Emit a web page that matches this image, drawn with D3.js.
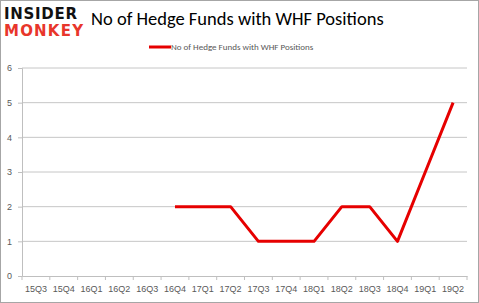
<!DOCTYPE html>
<html>
<head>
<meta charset="utf-8">
<script src="https://cdn.jsdelivr.net/npm/d3@7"></script>
<style>
  body { margin: 0; background: #fff; }
  svg { display: block; font-family: Calibri, Carlito, "Open Sans", Arial, sans-serif; }
</style>
</head>
<body>
<div id="chart"></div>
<script>
// quarters shown on the x axis
var quarters = ["15Q3","15Q4","16Q1","16Q2","16Q3","16Q4","17Q1","17Q2","17Q3","17Q4","18Q1","18Q2","18Q3","18Q4","19Q1","19Q2"];
// hedge fund counts, null where there is no point
var funds = [null,null,null,null,null,2,2,2,1,1,1,2,2,1,3,5];
var yTicks = [0,1,2,3,4,5,6];

var W = 479, H = 303;
// plot box ("top" is taken by window.top, so use other names)
var plotL = 22, plotR = 467, plotT = 68, plotB = 276;

var svg = d3.select("#chart").append("svg")
  .attr("width", W)
  .attr("height", H);

svg.append("rect")
  .attr("x", 0.5).attr("y", 0.5)
  .attr("width", W - 1).attr("height", H - 1)
  .attr("fill", "#fff")
  .attr("stroke", "#a6a6a6");

var x = d3.scaleBand().domain(quarters).range([plotL, plotR]);
var y = d3.scaleLinear().domain([0, 6]).range([plotB, plotT]);

// gridlines
svg.append("g").selectAll("line")
  .data(yTicks.slice(1))
  .enter().append("line")
  .attr("x1", plotL).attr("x2", plotR)
  .attr("y1", function(d){ return y(d); })
  .attr("y2", function(d){ return y(d); })
  .attr("stroke", "#c6c6c6")
  .attr("stroke-width", 1);

// y axis
var yAxis = svg.append("g")
  .attr("transform", "translate(" + plotL + ",0)")
  .call(d3.axisLeft(y).tickValues(yTicks).tickFormat(d3.format("d")).tickSize(4).tickPadding(6));
yAxis.select(".domain").attr("stroke", "#bfbfbf");
yAxis.selectAll(".tick line").attr("stroke", "#bfbfbf");
yAxis.selectAll("text").attr("fill", "#595959").style("font-size", "9px");

// x axis with ticks at band boundaries
var xAxis = svg.append("g")
  .attr("transform", "translate(0," + plotB + ")")
  .call(d3.axisBottom(x).tickSize(0).tickPadding(10));
xAxis.select(".domain").attr("stroke", "#bfbfbf");
xAxis.selectAll("text").attr("fill", "#595959").style("font-size", "9px");
svg.append("g").selectAll("line")
  .data(quarters.concat(["end"]))
  .enter().append("line")
  .attr("x1", function(d, i){ return plotL + i * x.step(); })
  .attr("x2", function(d, i){ return plotL + i * x.step(); })
  .attr("y1", plotB).attr("y2", plotB + 4)
  .attr("stroke", "#bfbfbf");

// the line
var line = d3.line()
  .defined(function(d){ return d != null; })
  .x(function(d, i){ return x(quarters[i]) + x.bandwidth() / 2; })
  .y(function(d){ return y(d); });

svg.append("path")
  .datum(funds)
  .attr("d", line)
  .attr("fill", "none")
  .attr("stroke", "#e60000")
  .attr("stroke-width", 3)
  .attr("stroke-linejoin", "round");

// title
svg.append("text")
  .attr("x", 91).attr("y", 25)
  .attr("fill", "#000")
  .style("font-size", "18.5px")
  .text("No of Hedge Funds with WHF Positions");

// legend
svg.append("line")
  .attr("x1", 149).attr("x2", 171)
  .attr("y1", 47).attr("y2", 47)
  .attr("stroke", "#e60000").attr("stroke-width", 3);
svg.append("text")
  .attr("x", 171).attr("y", 50)
  .attr("fill", "#595959")
  .style("font-size", "9px")
  .text("No of Hedge Funds with WHF Positions");

// logo
svg.append("text")
  .attr("x", 4).attr("y", 19)
  .attr("fill", "#111")
  .style("font-size", "15px")
  .style("font-weight", "bold")
  .style("font-family", "'DejaVu Sans', sans-serif")
  .attr("textLength", 73)
  .text("INSIDER");
svg.append("text")
  .attr("x", 4).attr("y", 36)
  .attr("fill", "#e8362b")
  .style("font-size", "15px")
  .style("font-weight", "bold")
  .style("font-family", "'DejaVu Sans', sans-serif")
  .attr("textLength", 79)
  .text("MONKEY");
</script>
</body>
</html>
